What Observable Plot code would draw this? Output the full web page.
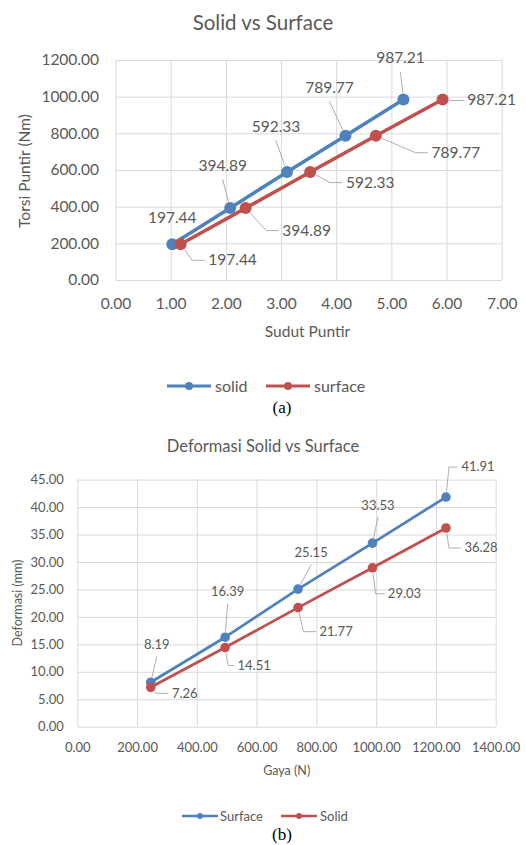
<!DOCTYPE html>
<html><head><meta charset="utf-8">
<script src="https://cdn.jsdelivr.net/npm/d3@7"></script>
<script src="https://cdn.jsdelivr.net/npm/@observablehq/plot@0.6"></script>
<style>
html,body{margin:0;padding:0;background:#fff}
body{width:526px;height:845px;position:relative;overflow:hidden;font-family:Lato,"Open Sans",sans-serif}
.abs{position:absolute;white-space:nowrap;line-height:1}
.layer{position:absolute;left:0}
</style></head><body>
<script>
// ---------------- DATA ----------------
// Chart (a): Solid vs Surface
const sudutSolid = [1.02, 2.07, 3.10, 4.16, 5.21];
const torsiSolid = [197.44, 394.89, 592.33, 789.77, 987.21];
const sudutSurface = [1.17, 2.35, 3.52, 4.71, 5.92];
const torsiSurface = [197.44, 394.89, 592.33, 789.77, 987.21];
const sudutTicks = [0, 1, 2, 3, 4, 5, 6, 7];
const torsiTicks = [0, 200, 400, 600, 800, 1000, 1200];
const seriesNamesA = ["solid", "surface"];
// Chart (b): Deformasi Solid vs Surface
const gaya = [244, 493, 737, 986, 1232];
const deformasiSurface = [8.19, 16.39, 25.15, 33.53, 41.91];
const deformasiSolid = [7.26, 14.51, 21.77, 29.03, 36.28];
const gayaTicks = [0, 200, 400, 600, 800, 1000, 1200, 1400];
const deformasiTicks = [0, 5, 10, 15, 20, 25, 30, 35, 40, 45];
const seriesNamesB = ["Surface", "Solid"];

// ---------------- LAYOUT / STYLE ----------------
const FONT = "Lato, 'Open Sans', sans-serif";
const GRAY = "#595959";
const GRID = "#d9d9d9";
const LEADER = "#a6a6a6";
const BLUE = "#4F81BD";
const RED = "#C0504D";
// label nudges in pixels (label centre relative to its point)
const nudgeA_solid = [[0,-26],[-7.5,-42.5],[-11,-45],[-16,-48],[-3,-41]];
const nudgeA_surface = [[52,16],[61,22.5],[60,10.7],[80,17],[49,1]];
const nudgeB_surface = [[6,-37],[2.5,-45],[13,-36],[5.5,-37.6],[32,-30]];
const nudgeB_solid = [[34,6],[29,18],[38,24],[32,26],[35,20]];

const fmt = d3.format(".2f");
const ctx = document.createElement("canvas").getContext("2d");
function textW(t, fs) { ctx.font = `${fs}px Lato`; return ctx.measureText(t).width; }

function place(text, x, y, css) {
  const d = document.createElement("div");
  d.className = "abs";
  d.textContent = text;
  d.style.left = x + "px"; d.style.top = y + "px";
  d.style.transform = "translate(-50%,-50%)" + (css.rotate ? " rotate(-90deg)" : "");
  d.style.fontSize = css.fs + "px";
  d.style.color = css.color || GRAY;
  if (css.family) d.style.fontFamily = css.family;
  document.body.appendChild(d);
}

function legend(items, y, css) {
  items.forEach(it => {
    const s = document.createElementNS("http://www.w3.org/2000/svg", "svg");
    s.setAttribute("width", it.x1 - it.x0 + 10); s.setAttribute("height", 16);
    s.style.position = "absolute"; s.style.left = (it.x0 - 5) + "px"; s.style.top = (y - 8) + "px";
    s.innerHTML = `<line x1="5" x2="${it.x1 - it.x0 + 5}" y1="8" y2="8" stroke="${it.color}" stroke-width="${css.sw}"/>` +
      `<circle cx="${(it.x1 - it.x0) / 2 + 5}" cy="8" r="${css.r}" fill="${it.color}"/>`;
    document.body.appendChild(s);
    const d = document.createElement("div");
    d.className = "abs"; d.textContent = it.label;
    d.style.left = it.tx + "px"; d.style.top = y + "px";
    d.style.transform = "translateY(-50%)";
    d.style.fontSize = css.fs + "px"; d.style.color = GRAY;
    document.body.appendChild(d);
  });
}

function chart(o) {
  const {w, h, m, xDomain, yDomain, xTicks, yTicks, series, tickFs, labelFs, sw, r, padX, padY} = o;
  const sx = d3.scaleLinear(xDomain, [m.left, w - m.right]);
  const sy = d3.scaleLinear(yDomain, [h - m.bottom, m.top]);
  const points = [], labels = [], leaders = [];
  let lid = 0;
  series.forEach(s => {
    s.x.forEach((xv, i) => {
      const yv = s.y[i];
      points.push({series: s.name, x: xv, y: yv});
      const px = sx(xv), py = sy(yv);
      const [dx, dy] = s.nudge[i];
      const cx = px + dx, cy = py + dy;
      const text = fmt(yv);
      labels.push({x: sx.invert(cx), y: sy.invert(cy), text});
      let path;
      if (dy < 0 && Math.abs(dy) > Math.abs(dx)) {
        const ex = cx, ey = cy + 0.9 * labelFs;
        const L = Math.hypot(ex - px, ey - py);
        if (L > 14) {
          const ux = (ex - px) / L, uy = (ey - py) / L;
          path = [[px + ux * (r + 1), py + uy * (r + 1)], [ex, ey]];
        }
      } else {
        const left = cx - textW(text, labelFs) / 2;
        const elx = Math.max(px + 3, left - 16), ely = cy;
        const L = Math.hypot(elx - px, ely - py);
        const ux = (elx - px) / L, uy = (ely - py) / L;
        path = [[px + ux * (r + 1), py + uy * (r + 1)], [elx, ely], [left - 4, cy]];
      }
      if (path) {
        lid++;
        path.forEach(([a, b]) => leaders.push({id: lid, x: sx.invert(a), y: sy.invert(b)}));
      }
    });
  });
  return Plot.plot({
    width: w, height: h,
    marginTop: m.top, marginRight: m.right, marginBottom: m.bottom, marginLeft: m.left,
    x: {domain: xDomain, ticks: xTicks, tickFormat: fmt, tickSize: 0, tickPadding: padX, label: null},
    y: {domain: yDomain, ticks: yTicks, tickFormat: fmt, tickSize: 0, tickPadding: padY, label: null},
    color: {domain: series.map(s => s.name), range: series.map(s => s.color)},
    style: {fontFamily: FONT, fontSize: tickFs + "px", color: GRAY, background: "white", overflow: "visible"},
    marks: [
      Plot.ruleX(xTicks, {stroke: GRID, strokeWidth: 1}),
      Plot.ruleY(yTicks, {stroke: GRID, strokeWidth: 1}),
      Plot.line(leaders, {x: "x", y: "y", z: "id", stroke: LEADER, strokeWidth: 0.9}),
      Plot.line(points, {x: "x", y: "y", z: "series", stroke: "series", strokeWidth: sw, strokeLinecap: "round"}),
      Plot.dot(points, {x: "x", y: "y", fill: "series", r: r, stroke: null}),
      Plot.text(labels, {x: "x", y: "y", text: "text", fill: GRAY, fontSize: labelFs, textAnchor: "middle", lineAnchor: "middle"})
    ]
  });
}

// ---- Chart (a)
const svgA = chart({
  w: 526, h: 350, m: {top: 60, right: 24.3, bottom: 70, left: 115.5},
  xDomain: [0, 7], yDomain: [0, 1200], xTicks: sudutTicks, yTicks: torsiTicks,
  series: [
    {name: seriesNamesA[0], x: sudutSolid, y: torsiSolid, nudge: nudgeA_solid, color: BLUE},
    {name: seriesNamesA[1], x: sudutSurface, y: torsiSurface, nudge: nudgeA_surface, color: RED}
  ],
  tickFs: 15.5, labelFs: 15.5, sw: 3.5, r: 6, padX: 17, padY: 17
});
const la = document.createElement("div"); la.className = "layer"; la.style.top = "0px";
la.appendChild(svgA); document.body.appendChild(la);

place("Solid vs Surface", 263, 22, {fs: 20.5});
place("Sudut Puntir", 307.5, 332, {fs: 15.5});
place("Torsi Puntir (Nm)", 25, 171, {fs: 15.5, rotate: true});
legend([
  {x0: 167, x1: 211, tx: 215, color: BLUE, label: "solid"},
  {x0: 266, x1: 310, tx: 314, color: RED, label: "surface"}
], 386, {fs: 16, sw: 3, r: 4});
place("(a)", 282, 407, {fs: 17, color: "#000", family: "'Liberation Serif', 'DejaVu Serif', serif"});

// ---- Chart (b)
const svgB = chart({
  w: 526, h: 360, m: {top: 59.6, right: 30.3, bottom: 53.3, left: 77.3},
  xDomain: [0, 1400], yDomain: [0, 45], xTicks: gayaTicks, yTicks: deformasiTicks,
  series: [
    {name: seriesNamesB[0], x: gaya, y: deformasiSurface, nudge: nudgeB_surface, color: BLUE},
    {name: seriesNamesB[1], x: gaya, y: deformasiSolid, nudge: nudgeB_solid, color: RED}
  ],
  tickFs: 13, labelFs: 13, sw: 2.75, r: 4.8, padX: 15.5, padY: 14
});
const lb = document.createElement("div"); lb.className = "layer"; lb.style.top = "420px";
lb.appendChild(svgB); document.body.appendChild(lb);

place("Deformasi Solid vs Surface", 263, 446, {fs: 16.5});
place("Gaya (N)", 286.7, 771, {fs: 12.5});
place("Deformasi (mm)", 18, 603, {fs: 12.5, rotate: true});
legend([
  {x0: 182, x1: 218, tx: 220, color: BLUE, label: "Surface"},
  {x0: 281, x1: 317, tx: 320, color: RED, label: "Solid"}
], 816, {fs: 13, sw: 2.5, r: 3});
place("(b)", 282, 834, {fs: 17, color: "#000", family: "'Liberation Serif', 'DejaVu Serif', serif"});
</script>
</body></html>
